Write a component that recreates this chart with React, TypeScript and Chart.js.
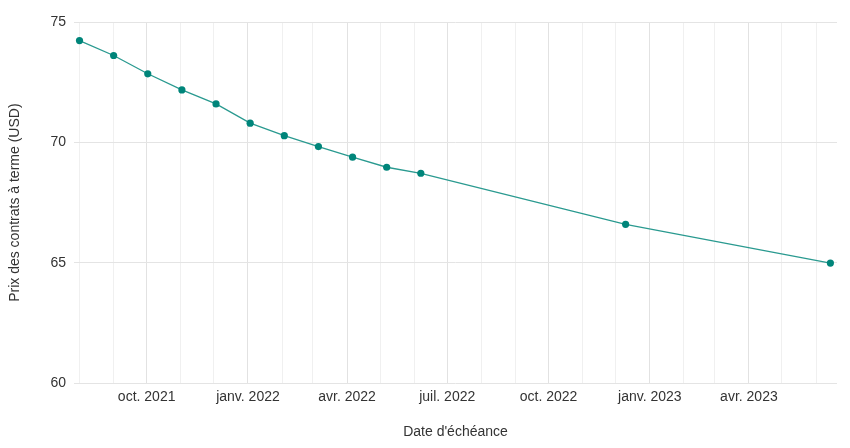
import React, { useEffect, useRef } from "react";
import { Chart, registerables } from "chart.js";

Chart.register(...registerables);

// Expiry dates (x) and futures prices (y)
const expiryDates = [
  "2021-08-01", "2021-09-01", "2021-10-02", "2021-11-02", "2021-12-03",
  "2022-01-03", "2022-02-03", "2022-03-06", "2022-04-06", "2022-05-07",
  "2022-06-07", "2022-12-10", "2023-06-14",
];
const futuresPrices = [
  74.23, 73.61, 72.85, 72.18, 71.6, 70.8, 70.28, 69.83, 69.39, 68.97,
  68.72, 66.6, 64.99,
];

// Monthly grid ticks and their labels (labels only at quarter starts)
const tickDates = [
  "2021-08-01", "2021-09-01", "2021-10-01", "2021-11-01", "2021-12-01",
  "2022-01-01", "2022-02-01", "2022-03-01", "2022-04-01", "2022-05-01",
  "2022-06-01", "2022-07-01", "2022-08-01", "2022-09-01", "2022-10-01",
  "2022-11-01", "2022-12-01", "2023-01-01", "2023-02-01", "2023-03-01",
  "2023-04-01", "2023-05-01", "2023-06-01",
];
const tickLabels = [
  "", "", "oct. 2021", "", "",
  "janv. 2022", "", "", "avr. 2022", "",
  "", "juil. 2022", "", "", "oct. 2022",
  "", "", "janv. 2023", "", "",
  "avr. 2023", "", "",
];
const xRange = ["2021-07-27", "2023-06-20"];
const yTicks = [60, 65, 70, 75];

const FONT = "'Liberation Sans', Arial, sans-serif";

export default function App() {
  const ref = useRef<HTMLCanvasElement | null>(null);

  useEffect(() => {
    if (!ref.current) return;
    const tickValues = tickDates.map((d) => Date.parse(d));
    const chart = new Chart(ref.current, {
      type: "line",
      data: {
        datasets: [
          {
            data: expiryDates.map((d, i) => ({ x: Date.parse(d), y: futuresPrices[i] })),
            borderColor: "#2a9a90",
            borderWidth: 1.3,
            pointBackgroundColor: "#00857a",
            pointBorderColor: "#00857a",
            pointRadius: 3.6,
            pointBorderWidth: 0,
            tension: 0,
          },
        ],
      },
      options: {
        animation: false,
        responsive: false,
        maintainAspectRatio: false,
        layout: { padding: { top: 22, right: 13, bottom: 0, left: 0 } },
        plugins: { legend: { display: false }, tooltip: { enabled: false } },
        scales: {
          x: {
            type: "linear",
            min: Date.parse(xRange[0]),
            max: Date.parse(xRange[1]),
            border: { display: false },
            afterBuildTicks: (scale: any) => {
              scale.ticks = tickValues.map((v) => ({ value: v }));
            },
            afterFit: (scale: any) => {
              scale.height = 64.7;
            },
            grid: {
              drawTicks: false,
              lineWidth: 1,
              color: (ctx: any) => {
                const i = ctx.index;
                return tickLabels[i] ? "#e2e2e2" : "#f0f0f0";
              },
            },
            ticks: {
              autoSkip: false,
              maxRotation: 0,
              padding: 5,
              color: "#333333",
              font: { family: FONT, size: 14 },
              callback: (_v: any, i: number) => tickLabels[i] ?? "",
            },
            title: {
              display: true,
              text: "Date d'échéance",
              color: "#333333",
              font: { family: FONT, size: 14 },
              padding: { top: 0, bottom: 7.6 },
            },
          },
          y: {
            min: 60,
            max: 75,
            border: { display: false },
            afterBuildTicks: (scale: any) => {
              scale.ticks = yTicks.map((v) => ({ value: v }));
            },
            afterFit: (scale: any) => {
              scale.width = 74;
            },
            grid: { drawTicks: false, color: "#e4e4e4", lineWidth: 1 },
            ticks: {
              padding: 8,
              color: "#333333",
              font: { family: FONT, size: 14 },
            },
            title: {
              display: true,
              text: "Prix des contrats à terme (USD)",
              color: "#333333",
              font: { family: FONT, size: 14 },
              padding: { top: 6.6, bottom: 0 },
            },
          },
        },
      },
    });
    return () => chart.destroy();
  }, []);

  return (
    <div style={{ position: "fixed", left: 0, top: 0, width: 850, height: 448, background: "#ffffff" }}>
      <canvas ref={ref} width={850} height={448} style={{ width: 850, height: 448, display: "block" }} />
    </div>
  );
}
